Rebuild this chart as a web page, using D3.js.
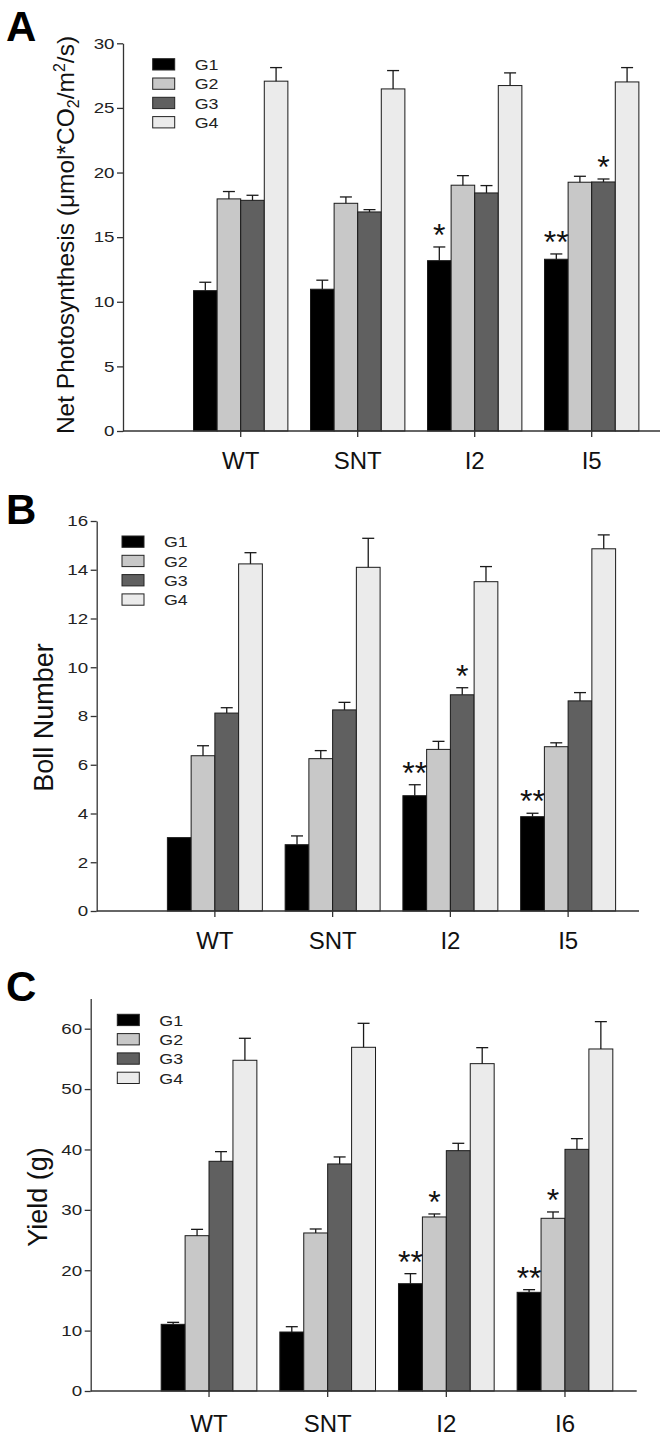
<!DOCTYPE html>
<html>
<head>
<meta charset="utf-8">
<script src="https://cdn.jsdelivr.net/npm/d3@7"></script>
<style>
  body { margin: 0; background: #fff; }
  svg text { font-family: "Liberation Sans", Arial, sans-serif; fill: #111; }
</style>
</head>
<body>
<svg id="chart" width="666" height="1438"></svg>
<script>
// series
var groups = ["G1", "G2", "G3", "G4"];
var fills = ["#000000", "#c8c8c8", "#606060", "#ebebeb"];

// A - net photosynthesis (rows = lines, cols = G1..G4)
var photoCats = ["WT", "SNT", "I2", "I5"];
var photoMean = [[10.86, 17.96, 17.85, 27.07], [10.97, 17.62, 16.95, 26.47], [13.18, 19.02, 18.42, 26.73], [13.29, 19.25, 19.27, 27.01]];
var photoErr = [[0.65, 0.57, 0.39, 1.05], [0.70, 0.49, 0.18, 1.42], [1.06, 0.74, 0.57, 0.98], [0.41, 0.46, 0.23, 1.11]];
var photoStars = [["I2", 0, "*"], ["I5", 0, "**"], ["I5", 2, "*"]];

// B - boll number
var bollCats = ["WT", "SNT", "I2", "I5"];
var bollMean = [[3.01, 6.37, 8.12, 14.24], [2.72, 6.25, 8.25, 14.10], [4.73, 6.63, 8.87, 13.51], [3.87, 6.74, 8.62, 14.86]];
var bollErr = [[0, 0.41, 0.22, 0.46], [0.36, 0.33, 0.31, 1.19], [0.45, 0.33, 0.29, 0.62], [0.14, 0.16, 0.34, 0.57]];
var bollStars = [["I2", 0, "**"], ["I2", 2, "*"], ["I5", 0, "**"]];

// C - yield
var yieldCats = ["WT", "SNT", "I2", "I6"];
var yieldMean = [[11.04, 25.72, 38.04, 54.77], [9.77, 26.17, 37.60, 56.92], [17.77, 28.82, 39.80, 54.21], [16.34, 28.60, 40.02, 56.64]];
var yieldErr = [[0.33, 1.05, 1.60, 3.64], [0.88, 0.66, 1.16, 3.97], [1.66, 0.50, 1.22, 2.65], [0.44, 1.05, 1.77, 4.53]];
var yieldStars = [["I2", 0, "**"], ["I2", 1, "*"], ["I6", 0, "**"], ["I6", 1, "*"]];

var panels = [
  {letter: "A", letterY: 41, cats: photoCats, mean: photoMean, err: photoErr, stars: photoStars,
   yMax: 30, ticks: [0, 5, 10, 15, 20, 25, 30], top: 43.3, bottom: 431, left: 123, right: 660,
   bandL: 182.2, bandR: 650.2, legX: 152.7, legY: 58.7, titleX: 74, titleY: 235, titleSize: 24.5, labelY: 37.5,
   title: "sub"},
  {letter: "B", letterY: 524, cats: bollCats, mean: bollMean, err: bollErr, stars: bollStars,
   yMax: 16, ticks: [0, 2, 4, 6, 8, 10, 12, 14, 16], top: 521, bottom: 911, left: 96.7, right: 639,
   bandL: 156, bandR: 627, legX: 122, legY: 536, titleX: 53, titleY: 717.5, titleSize: 27, labelY: 38,
   title: "Boll Number"},
  {letter: "C", letterY: 1001, cats: yieldCats, mean: yieldMean, err: yieldErr, stars: yieldStars,
   yMax: 65, ticks: [0, 10, 20, 30, 40, 50, 60], top: 998.5, bottom: 1391, left: 90.7, right: 636.7,
   bandL: 149.7, bandR: 624.3, legX: 117.3, legY: 1014.3, titleX: 46.7, titleY: 1197, titleSize: 27, labelY: 41,
   title: "Yield (g)"}
];

var svg = d3.select("#chart");
var axisColor = "#333";

panels.forEach(function (p) {
  var g = svg.append("g");

  var y = d3.scaleLinear().domain([0, p.yMax]).range([p.bottom, p.top]);
  var x = d3.scaleBand().domain(p.cats).range([p.bandL, p.bandR]).padding(0);
  var xs = d3.scaleBand().domain(groups).range([0, x.bandwidth()]).paddingInner(0).paddingOuter(0.48);

  // panel letter
  g.append("text").attr("x", 6).attr("y", p.letterY)
    .style("font-size", "42px").style("font-weight", "bold").style("fill", "#000")
    .text(p.letter);

  // y title
  var t = g.append("text")
    .attr("transform", "translate(" + p.titleX + "," + p.titleY + ") rotate(-90)")
    .attr("text-anchor", "middle")
    .style("font-size", p.titleSize + "px");
  if (p.title === "sub") {
    t.append("tspan").text("Net Photosynthesis (\u03bcmol*CO");
    t.append("tspan").attr("dy", 5).style("font-size", "16px").text("2");
    t.append("tspan").attr("dy", -5).text("/m");
    t.append("tspan").attr("dy", -9).style("font-size", "16px").text("2");
    t.append("tspan").attr("dy", 9).text("/s)");
  } else {
    t.text(p.title);
  }

  // bars
  var rows = p.cats.map(function (c, i) {
    return groups.map(function (gr, j) {
      return {cat: c, gi: j, v: p.mean[i][j], e: p.err[i][j]};
    });
  });
  var flat = [].concat.apply([], rows);

  g.selectAll("rect.bar").data(flat).enter().append("rect")
    .attr("class", "bar")
    .attr("x", function (d) { return x(d.cat) + xs(groups[d.gi]); })
    .attr("y", function (d) { return y(d.v); })
    .attr("width", xs.bandwidth())
    .attr("height", function (d) { return y(0) - y(d.v); })
    .style("fill", function (d) { return fills[d.gi]; })
    .style("stroke", "#1a1a1a")
    .style("stroke-width", 1);

  // error bars
  var eb = g.selectAll("g.err").data(flat.filter(function (d) { return d.e > 0; })).enter().append("g");
  eb.append("line")
    .attr("x1", function (d) { return x(d.cat) + xs(groups[d.gi]) + xs.bandwidth() / 2; })
    .attr("x2", function (d) { return x(d.cat) + xs(groups[d.gi]) + xs.bandwidth() / 2; })
    .attr("y1", function (d) { return y(d.v); })
    .attr("y2", function (d) { return y(d.v + d.e); });
  eb.append("line")
    .attr("x1", function (d) { return x(d.cat) + xs(groups[d.gi]) + xs.bandwidth() / 2 - 6; })
    .attr("x2", function (d) { return x(d.cat) + xs(groups[d.gi]) + xs.bandwidth() / 2 + 6; })
    .attr("y1", function (d) { return y(d.v + d.e); })
    .attr("y2", function (d) { return y(d.v + d.e); });
  eb.selectAll("line").style("stroke", "#1a1a1a").style("stroke-width", 1.3);

  // significance stars
  g.selectAll("text.star").data(p.stars).enter().append("text")
    .attr("class", "star")
    .attr("x", function (d) { return x(d[0]) + xs(groups[d[1]]) + xs.bandwidth() / 2; })
    .attr("y", function (d) {
      var i = p.cats.indexOf(d[0]);
      return y(p.mean[i][d[1]] + p.err[i][d[1]]) - 1;
    })
    .attr("text-anchor", "middle")
    .style("font-size", "32px")
    .text(function (d) { return d[2]; });

  // y axis
  var ya = g.append("g").attr("transform", "translate(" + p.left + ",0)")
    .call(d3.axisLeft(y).tickValues(p.ticks).tickSize(6).tickSizeOuter(0));
  ya.select(".domain").style("stroke", axisColor).style("stroke-width", 1.3);
  ya.selectAll(".tick line").style("stroke", axisColor).style("stroke-width", 1.3);
  ya.selectAll(".tick text")
    .attr("x", 0)
    .attr("transform", "translate(-8.5,0) scale(1.25,1)")
    .style("font-size", "15px").style("fill", "#222");

  // x axis
  g.append("line")
    .attr("x1", p.left).attr("x2", p.right)
    .attr("y1", p.bottom).attr("y2", p.bottom)
    .style("stroke", axisColor).style("stroke-width", 1.3);
  var xa = g.append("g").attr("transform", "translate(0," + p.bottom + ")")
    .call(d3.axisBottom(x).tickSize(6).tickSizeOuter(0));
  xa.select(".domain").remove();
  xa.selectAll(".tick line").style("stroke", axisColor).style("stroke-width", 1.3);
  xa.selectAll(".tick text")
    .attr("y", p.labelY).attr("dy", 0)
    .style("font-size", "24px").style("fill", "#111");

  // legend
  var lg = g.selectAll("g.leg").data(groups).enter().append("g")
    .attr("transform", function (d, i) { return "translate(" + p.legX + "," + (p.legY + i * 19.3) + ")"; });
  lg.append("rect").attr("width", 22).attr("height", 11.3)
    .style("fill", function (d, i) { return fills[i]; })
    .style("stroke", "#222").style("stroke-width", 1);
  lg.append("text")
    .attr("transform", "translate(42,11.3) scale(1.15,1)")
    .style("font-size", "15.5px").style("fill", "#222")
    .text(function (d) { return d; });
});
</script>
</body>
</html>
